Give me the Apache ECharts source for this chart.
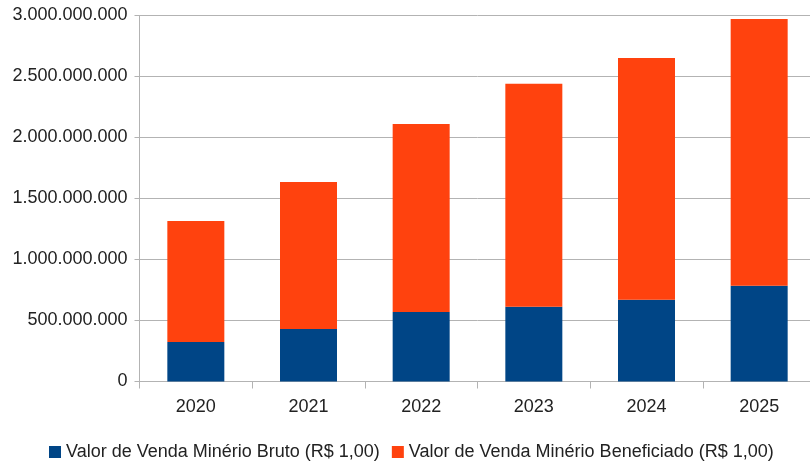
<!DOCTYPE html>
<html>
<head>
<meta charset="utf-8">
<script src="https://cdn.jsdelivr.net/npm/echarts@6/dist/echarts.min.js"></script>
<style>
html, body { margin: 0; padding: 0; background: #fff; overflow: hidden; }
#chart { width: 824px; height: 462px; }
</style>
</head>
<body>
<div id="chart"></div>
<script>
// data
const years = ["2020", "2021", "2022", "2023", "2024", "2025"];
const bruto = [324000000, 430000000, 570000000, 613000000, 670000000, 785000000];
const beneficiado = [992000000, 1205000000, 1540000000, 1828000000, 1982000000, 2186000000];
const seriesNames = ["Valor de Venda Minério Bruto (R$ 1,00)", "Valor de Venda Minério Beneficiado (R$ 1,00)"];

const FONT = "Liberation Sans";
const AXIS_GREY = "#b3b3b3";

function fmtThousands(v)
{
    return String(v).replace(/\B(?=(\d{3})+(?!\d))/g, ".");
}

// the plot runs a little past the right edge of the 810px window,
// so the chart div is wider and the overflow is hidden
const chart = echarts.init(document.getElementById("chart"), null, { renderer: "canvas" });

chart.setOption({
    animation: false,
    color: ["#004586", "#ff420e"],
    textStyle: { fontFamily: FONT },
    grid: { left: 139.5, top: 15.5, width: 676, height: 366 },
    legend: {
        top: 443,
        left: 49,
        padding: 0,
        icon: "rect",
        itemWidth: 12,
        itemHeight: 12,
        itemGap: 12,
        textStyle: { fontFamily: FONT, fontSize: 18, color: "#222" },
        data: seriesNames
    },
    xAxis: {
        type: "category",
        data: years,
        axisLine: { lineStyle: { color: AXIS_GREY, width: 1 } },
        axisTick: { show: true, length: 7, lineStyle: { color: AXIS_GREY } },
        axisLabel: { fontFamily: FONT, fontSize: 18, color: "#222", margin: 17 }
    },
    yAxis: {
        type: "value",
        min: 0,
        max: 3000000000,
        interval: 500000000,
        axisLine: { show: true, lineStyle: { color: AXIS_GREY, width: 1 } },
        axisTick: { show: true, length: 5, lineStyle: { color: AXIS_GREY } },
        splitLine: { lineStyle: { color: AXIS_GREY, width: 1 } },
        axisLabel: {
            fontFamily: FONT,
            fontSize: 18,
            color: "#222",
            margin: 12,
            formatter: fmtThousands
        }
    },
    series: [
        {
            name: seriesNames[0],
            type: "bar",
            stack: "total",
            barWidth: 57,
            data: bruto
        },
        {
            name: seriesNames[1],
            type: "bar",
            stack: "total",
            barWidth: 57,
            data: beneficiado
        }
    ]
});
</script>
</body>
</html>
